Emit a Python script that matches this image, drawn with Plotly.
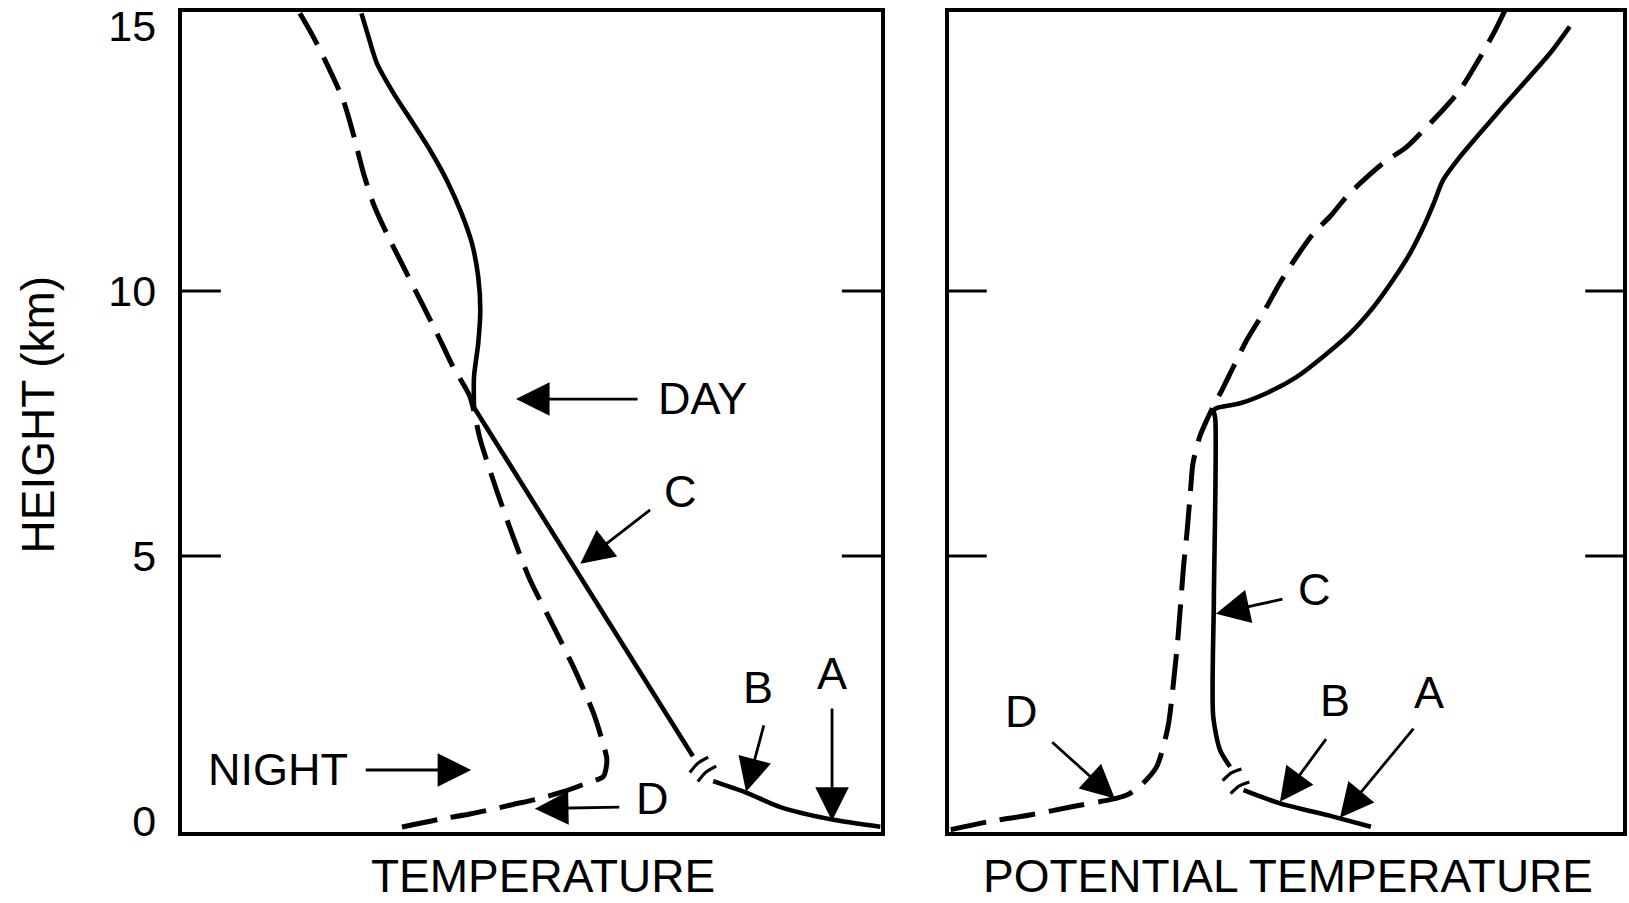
import plotly.graph_objects as go

# ---------------- data (x: percent of panel width, y: height km) ----------------
y_tick_vals = [0, 5, 10, 15]
y_tick_text = ["0", "5", "10", "15"]
y_inner_ticks = [5, 10]

# Left panel: TEMPERATURE
t_day_x = [25.7, 26.7, 27.9, 30.3, 33.1, 35.5, 37.9, 40.0, 41.5, 42.4, 42.7, 42.4, 41.8, 41.8]
t_day_y = [15.24, 14.80, 14.30, 13.73, 13.16, 12.66, 12.09, 11.47, 10.90, 10.27, 9.64, 9.01, 8.38, 7.80]
t_day_lapse_x = [41.8, 73.1]
t_day_lapse_y = [7.80, 1.22]
t_day_low_x = [76.0, 80.8, 85.6, 93.2, 99.9]
t_day_low_y = [0.75, 0.53, 0.26, 0.02, -0.11]
t_night_x = [16.9, 18.8, 20.7, 23.1, 24.5, 26.0, 27.4, 29.3, 31.7, 34.1, 36.5, 38.8, 41.2, 42.7,
             45.0, 47.4, 49.8, 52.7, 56.0, 58.9, 60.1, 60.8, 60.3, 57.9, 54.6, 50.8, 47.4, 44.1,
             41.2, 36.9, 29.5]
t_night_y = [15.24, 14.80, 14.30, 13.60, 12.98, 12.22, 11.65, 11.09, 10.46, 9.83, 9.20, 8.57, 8.01, 7.19,
             6.25, 5.36, 4.55, 3.79, 2.91, 2.03, 1.53, 1.15, 0.84, 0.71, 0.55, 0.41, 0.31, 0.21,
             0.13, 0.03, -0.17]
t_break1_x = [72.66, 73.79, 75.29]
t_break1_y = [0.911, 1.085, 1.202]
t_break2_x = [73.80, 74.93, 76.43]
t_break2_y = [0.742, 0.915, 1.032]

# Right panel: POTENTIAL TEMPERATURE
pt_day_x = [92.1, 89.2, 85.7, 82.2, 78.8, 75.8, 73.3, 71.9, 70.4, 68.4, 65.9, 63.0, 59.5,
            55.5, 51.6, 47.1, 43.2, 39.7, 39.2]
pt_day_y = [14.99, 14.49, 13.98, 13.48, 12.98, 12.53, 12.09, 11.65, 11.21, 10.71, 10.21, 9.70, 9.20,
            8.76, 8.38, 8.07, 7.88, 7.79, 7.75]
pt_day_mix_x = [39.2, 39.5, 39.3, 39.2, 40.2, 41.7]
pt_day_mix_y = [7.75, 7.60, 4.20, 1.97, 1.34, 1.02]
pt_day_low_x = [43.7, 49.1, 57.0, 62.6]
pt_day_low_y = [0.58, 0.33, 0.08, -0.11]
pt_night_x = [82.5, 80.8, 78.3, 75.8, 73.3, 70.9, 67.9, 64.4, 61.5, 59.0, 56.5, 54.1, 51.6, 49.1,
              46.6, 44.2, 42.2, 40.5, 39.2, 38.2, 37.2, 36.2, 35.8, 35.3, 34.8, 34.0, 33.3, 32.5,
              30.8, 28.3, 26.4, 23.9, 18.4, 12.0, 6.1, 0.1]
pt_night_y = [15.30, 14.86, 14.30, 13.79, 13.42, 13.10, 12.72, 12.41, 12.09, 11.78, 11.40, 11.09, 10.65, 10.15,
              9.58, 9.08, 8.57, 8.13, 7.82, 7.55, 7.25, 6.75, 6.18, 5.43, 4.80, 3.50, 2.60, 1.78,
              1.02, 0.65, 0.49, 0.40, 0.27, 0.11, -0.01, -0.17]
pt_break1_x = [40.60, 41.83, 43.39]
pt_break1_y = [0.758, 0.900, 0.977]
pt_break2_x = [41.78, 43.01, 44.57]
pt_break2_y = [0.513, 0.655, 0.732]

# ---------------- figure ----------------
FONT = "Liberation Sans, Arial, Helvetica, sans-serif"
LW = 4.6
DASH = "36px,14px"

fig = go.Figure()

def add_line(x, y, xa, ya, dash=None, width=LW, shape="spline"):
    fig.add_trace(go.Scatter(
        x=x, y=y, xaxis=xa, yaxis=ya, mode="lines",
        line=dict(color="black", width=width, dash=dash, shape=shape, smoothing=0.7),
        hoverinfo="skip", showlegend=False))

add_line(t_day_x, t_day_y, "x", "y")
add_line(t_day_lapse_x, t_day_lapse_y, "x", "y", shape="linear")
add_line(t_day_low_x, t_day_low_y, "x", "y")
add_line(t_night_x, t_night_y, "x", "y", dash=DASH, width=5)
add_line(t_break1_x, t_break1_y, "x", "y", width=3.2)
add_line(t_break2_x, t_break2_y, "x", "y", width=3.2)

add_line(pt_day_x, pt_day_y, "x2", "y2")
add_line(pt_day_mix_x, pt_day_mix_y, "x2", "y2")
add_line(pt_day_low_x, pt_day_low_y, "x2", "y2")
add_line(pt_night_x, pt_night_y, "x2", "y2", dash=DASH, width=5)
add_line(pt_break1_x, pt_break1_y, "x2", "y2", width=3.2)
add_line(pt_break2_x, pt_break2_y, "x2", "y2", width=3.2)

W, H = 1629, 903
y_dom = [1 - 832 / H, 1 - 11.7 / H]
y_rng = [-0.21, 15.27]

axis_common = dict(showgrid=False, zeroline=False, showline=True, mirror=True,
                   linecolor="black", linewidth=4, ticks="", automargin=False)

fig.update_layout(
    template="none",
    width=W, height=H,
    margin=dict(l=0, r=0, t=0, b=0, pad=0, autoexpand=False),
    paper_bgcolor="white", plot_bgcolor="white",
    font=dict(family=FONT, color="black"),
    xaxis=dict(domain=[181.7 / W, 881 / W], range=[0, 100], showticklabels=False, **axis_common),
    xaxis2=dict(domain=[949 / W, 1623 / W], range=[0, 100], showticklabels=False, **axis_common),
    yaxis=dict(domain=y_dom, range=y_rng, tickvals=y_tick_vals, ticktext=y_tick_text,
               tickfont=dict(size=43, family=FONT, color="black"), ticklabelstandoff=13,
               anchor="x", **axis_common),
    yaxis2=dict(domain=y_dom, range=y_rng, tickvals=y_tick_vals, showticklabels=False,
                anchor="x2", **axis_common),
)

# inner tick marks at 5 and 10 on both sides of both panels
shapes = []
for xr, yr in (("x domain", "y"), ("x2 domain", "y2")):
    for yv in y_inner_ticks:
        shapes.append(dict(type="line", xref=xr, yref=yr, x0=0, x1=0.056, y0=yv, y1=yv,
                           line=dict(color="black", width=3)))
        shapes.append(dict(type="line", xref=xr, yref=yr, x0=0.944, x1=1, y0=yv, y1=yv,
                           line=dict(color="black", width=3)))
fig.update_layout(shapes=shapes)

ann = []
TXT = 45

def label(text, x, y, xr, yr, size=TXT):
    ann.append(dict(text=text, x=x, y=y, xref=xr, yref=yr, showarrow=False,
                    xanchor="center", yanchor="middle",
                    font=dict(size=size, family=FONT, color="black")))

def arrow(x_tip, y_tip, x_tail, y_tail, xr, yr):
    ann.append(dict(text="", x=x_tip, y=y_tip, ax=x_tail, ay=y_tail, xref=xr, yref=yr,
                    axref=xr, ayref=yr, showarrow=True, arrowhead=2, arrowsize=2.4,
                    arrowwidth=2.8, arrowcolor="black", standoff=0, startstandoff=0))

# left panel annotations
label("DAY", 74.5, 7.98, "x", "y")
arrow(47.8, 7.96, 65.4, 7.96, "x", "y")
label("C", 71.3, 6.21, "x", "y")
arrow(57.0, 4.85, 67.2, 5.89, "x", "y")
label("B", 82.4, 2.51, "x", "y")
arrow(80.7, 0.55, 83.3, 1.83, "x", "y")
label("A", 93.0, 2.79, "x", "y")
arrow(93.0, 0.0, 93.0, 2.15, "x", "y")
label("NIGHT", 13.8, 0.96, "x", "y")
arrow(41.4, 0.96, 26.1, 0.96, "x", "y")
label("D", 67.3, 0.43, "x", "y")
arrow(50.5, 0.23, 62.8, 0.26, "x", "y")

# right panel annotations
label("C", 54.2, 4.36, "x2", "y2")
arrow(39.6, 3.91, 49.7, 4.19, "x2", "y2")
label("D", 10.7, 2.06, "x2", "y2")
arrow(24.6, 0.42, 15.1, 1.51, "x2", "y2")
label("B", 57.3, 2.28, "x2", "y2")
arrow(49.1, 0.36, 56.1, 1.57, "x2", "y2")
label("A", 71.2, 2.42, "x2", "y2")
arrow(58.0, 0.06, 69.1, 1.77, "x2", "y2")

# axis titles (anchored to the bottom edge so they stay fully inside the page)
ann.append(dict(text="TEMPERATURE", x=543 / W, y=0, xref="paper", yref="paper",
                showarrow=False, xanchor="center", yanchor="bottom", borderpad=0,
                font=dict(size=46, family=FONT, color="black")))
ann.append(dict(text="POTENTIAL TEMPERATURE", x=1288 / W, y=0, xref="paper", yref="paper",
                showarrow=False, xanchor="center", yanchor="bottom", borderpad=0,
                font=dict(size=46, family=FONT, color="black")))
ann.append(dict(text="HEIGHT (km)", x=37.5 / W, y=1 - 415 / H, xref="paper", yref="paper",
                showarrow=False, xanchor="center", yanchor="middle", textangle=-90,
                font=dict(size=46, family=FONT, color="black")))

fig.update_layout(annotations=ann)

fig.write_html("out.html")
